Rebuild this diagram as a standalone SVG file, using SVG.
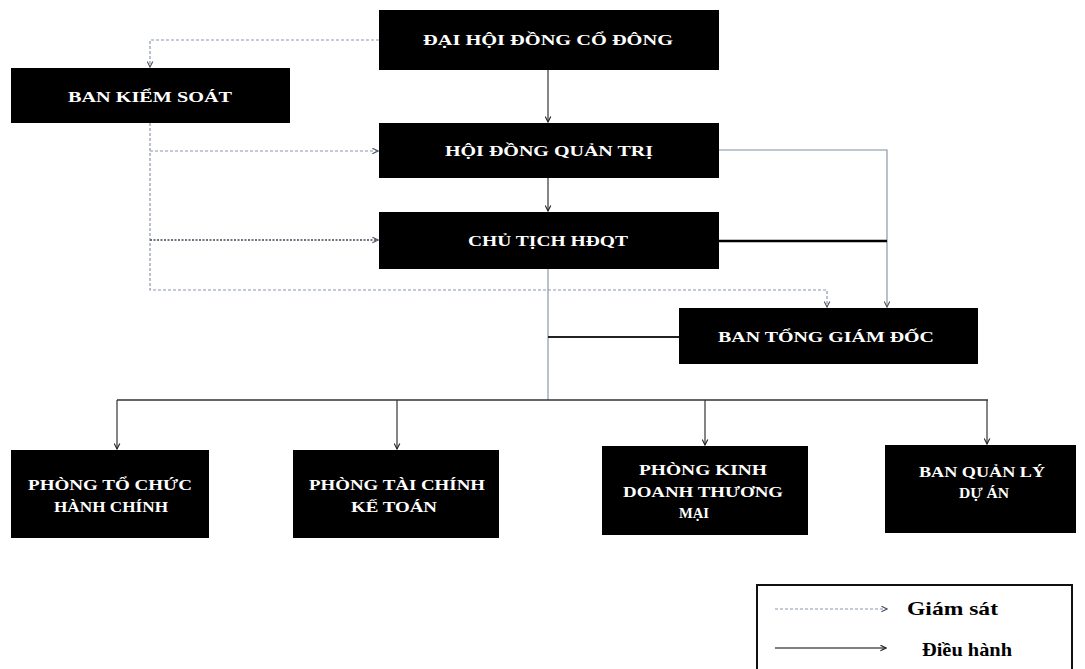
<svg xmlns="http://www.w3.org/2000/svg" width="1085" height="669" viewBox="0 0 1085 669">
<style>
.box{fill:#000;}
.lbl{font-family:"Liberation Serif","DejaVu Serif",serif;font-weight:bold;font-size:15px;fill:#fff;text-anchor:middle;}
.leg{font-family:"Liberation Serif","DejaVu Serif",serif;font-weight:bold;font-size:19px;fill:#000;}
.sup{fill:none;stroke:#8a98ad;stroke-width:1.2;stroke-dasharray:3,2;}
.supd{fill:none;stroke:#3d4656;stroke-width:1.6;stroke-dasharray:2,1.5;}
.ctl{fill:none;stroke:#333;stroke-width:1.2;}
.ctll{fill:none;stroke:#7f8ea3;stroke-width:1.1;}
.thick{fill:none;stroke:#000;stroke-width:2.5;}
.med{fill:none;stroke:#222;stroke-width:2;}
</style>
<defs>
<marker id="ah" viewBox="0 0 10 10" refX="9" refY="5" markerWidth="7" markerHeight="7" orient="auto" markerUnits="userSpaceOnUse">
<path d="M1,1 L9,5 L1,9" fill="none" stroke="#222" stroke-width="1.6"/>
</marker>
<marker id="ahl" viewBox="0 0 10 10" refX="9" refY="5" markerWidth="7" markerHeight="7" orient="auto" markerUnits="userSpaceOnUse">
<path d="M1,1 L9,5 L1,9" fill="none" stroke="#4a5566" stroke-width="1.6"/>
</marker>
</defs>
<rect width="1085" height="669" fill="#fff"/>

<g id="connectors">
<path class="sup" d="M379,40 H150 V67" marker-end="url(#ahl)"/>
<path class="sup" d="M150,123 V290 H827 V307" marker-end="url(#ahl)"/>
<path class="sup" d="M150,151 H378" marker-end="url(#ahl)"/>
<path class="supd" d="M150,240 H378" marker-end="url(#ahl)"/>
<path class="ctl" d="M548,70 V122" marker-end="url(#ah)"/>
<path class="ctl" d="M548,178 V211" marker-end="url(#ah)"/>
<path class="ctll" d="M548,269 V400"/>
<path class="med" d="M548,337 H679"/>
<path class="ctll" d="M719,150 H887 V307" marker-end="url(#ahl)"/>
<path class="thick" d="M719,241 H887"/>
<path class="med" d="M117,400 H988" style="stroke-width:1.5;stroke:#333"/>
<path class="ctl" d="M117,400 V449" marker-end="url(#ah)"/>
<path class="ctl" d="M397,400 V449" marker-end="url(#ah)"/>
<path class="ctl" d="M705,400 V445" marker-end="url(#ah)"/>
<path class="ctl" d="M987,400 V444" marker-end="url(#ah)"/>
</g>

<g id="dai-hoi-dong-co-dong">
<rect class="box" x="379" y="10" width="340" height="60"/>
<text class="lbl" x="548" y="45" textLength="250" lengthAdjust="spacingAndGlyphs">ĐẠI HỘI ĐỒNG CỔ ĐÔNG</text>
</g>
<g id="ban-kiem-soat">
<rect class="box" x="11" y="68" width="279" height="55"/>
<text class="lbl" x="150" y="102" textLength="164" lengthAdjust="spacingAndGlyphs">BAN KIỂM SOÁT</text>
</g>
<g id="hoi-dong-quan-tri">
<rect class="box" x="379" y="123" width="340" height="55"/>
<text class="lbl" x="549" y="156" textLength="208" lengthAdjust="spacingAndGlyphs">HỘI ĐỒNG QUẢN TRỊ</text>
</g>
<g id="chu-tich-hdqt">
<rect class="box" x="379" y="212" width="340" height="57"/>
<text class="lbl" x="548" y="246" textLength="160" lengthAdjust="spacingAndGlyphs">CHỦ TỊCH HĐQT</text>
</g>
<g id="ban-tong-giam-doc">
<rect class="box" x="679" y="308" width="299" height="56"/>
<text class="lbl" x="826" y="342" textLength="216" lengthAdjust="spacingAndGlyphs">BAN TỔNG GIÁM ĐỐC</text>
</g>
<g id="phong-to-chuc-hanh-chinh">
<rect class="box" x="11" y="450" width="198" height="88"/>
<text class="lbl" x="110" y="490" textLength="164" lengthAdjust="spacingAndGlyphs">PHÒNG TỔ CHỨC</text>
<text class="lbl" x="111" y="512" textLength="114" lengthAdjust="spacingAndGlyphs">HÀNH CHÍNH</text>
</g>
<g id="phong-tai-chinh-ke-toan">
<rect class="box" x="293" y="450" width="206" height="88"/>
<text class="lbl" x="397" y="490" textLength="176" lengthAdjust="spacingAndGlyphs">PHÒNG TÀI CHÍNH</text>
<text class="lbl" x="394" y="512" textLength="86" lengthAdjust="spacingAndGlyphs">KẾ TOÁN</text>
</g>
<g id="phong-kinh-doanh-thuong-mai">
<rect class="box" x="602" y="446" width="206" height="89"/>
<text class="lbl" x="703" y="475" textLength="128" lengthAdjust="spacingAndGlyphs">PHÒNG KINH</text>
<text class="lbl" x="703" y="497" textLength="160" lengthAdjust="spacingAndGlyphs">DOANH THƯƠNG</text>
<text class="lbl" x="694" y="518" textLength="30" lengthAdjust="spacingAndGlyphs">MẠI</text>
</g>
<g id="ban-quan-ly-du-an">
<rect class="box" x="885" y="445" width="191" height="88"/>
<text class="lbl" x="982" y="477" textLength="126" lengthAdjust="spacingAndGlyphs">BAN QUẢN LÝ</text>
<text class="lbl" x="984" y="498" textLength="50" lengthAdjust="spacingAndGlyphs">DỰ ÁN</text>
</g>

<g id="legend">
<rect x="757" y="585" width="315" height="100" fill="none" stroke="#111" stroke-width="2"/>
<path class="sup" d="M775,609 H887" marker-end="url(#ahl)"/>
<text class="leg" x="907" y="615" textLength="91" lengthAdjust="spacingAndGlyphs">Giám  sát</text>
<path d="M775,648 H886" fill="none" stroke="#555" stroke-width="1.3" marker-end="url(#ah)"/>
<text class="leg" x="922" y="656" textLength="90" lengthAdjust="spacingAndGlyphs">Điều hành</text>
</g>
</svg>
